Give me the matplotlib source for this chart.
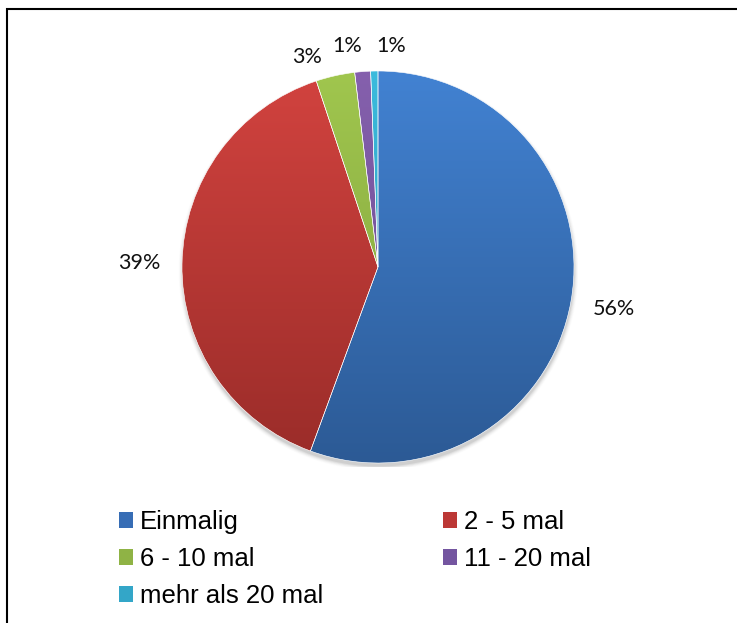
import matplotlib.pyplot as plt
import numpy as np
from matplotlib.patches import Patch, Rectangle, Circle
from matplotlib.colors import LinearSegmentedColormap

categories = ["Einmalig", "2 - 5 mal", "6 - 10 mal", "11 - 20 mal", "mehr als 20 mal"]
shares = [55.6, 39.3, 3.2, 1.3, 0.6]

# gradient (top, bottom) per slice, Excel-like
top_colors = ["#4282d2", "#d2433f", "#a0c64e", "#8560ad", "#3bbbdd"]
bottom_colors = ["#2c5a95", "#9a2c29", "#7f9f3c", "#664a8c", "#2a93b2"]
legend_colors = ["#376db5", "#bc3835", "#8fb345", "#7455a0", "#33a6c8"]

W, H = 737, 623
fig = plt.figure(figsize=(W / 100, H / 100), dpi=100)

cx, cy, r = 378, 267, 196
ax = fig.add_axes([(cx - 200) / W, (H - cy - 200) / H, 400 / W, 400 / H])
ax.axis("off")

# soft shadow under the pie
for i, a in enumerate(np.linspace(0.05, 0.012, 6)):
    ax.add_patch(Circle((0.5, -3.5), r + 0.8 * i, color="black", alpha=a, lw=0, zorder=0))
ax.add_patch(Circle((0, 0), r, color="white", lw=0, zorder=0.5))

wedges, texts, autotexts = ax.pie(
    shares, radius=r, startangle=90, counterclock=False,
    autopct="%1.0f%%", pctdistance=1.22,
    wedgeprops=dict(linewidth=0.4, edgecolor="white"),
    textprops=dict(family="Lato", fontsize=15.5, color="#111111"),
)
ax.set_aspect("auto")

grad = np.linspace(0, 1, 256).reshape(-1, 1)
for w, c0, c1 in zip(wedges, top_colors, bottom_colors):
    w.set_facecolor("none")
    w.set_zorder(2)
    cmap = LinearSegmentedColormap.from_list("g", [c0, c1])
    im = ax.imshow(grad, cmap=cmap, extent=(-r, r, -r, r), origin="upper",
                   aspect="auto", zorder=1, interpolation="bilinear")
    im.set_clip_path(w)

# Excel nudged the small labels apart
autotexts[2].set_position((-71, 210))
autotexts[3].set_position((-31, 221))
autotexts[4].set_position((13, 221))
ax.set_xlim(-200, 200)
ax.set_ylim(-200, 200)

handles = [Patch(facecolor=c, edgecolor="none") for c in legend_colors]
order = [0, 2, 4, 1, 3]
fig.legend([handles[i] for i in order], [categories[i] for i in order],
           ncol=2, loc="upper left", bbox_to_anchor=(119 / W, 1 - 510 / H),
           frameon=False, prop=dict(family="Liberation Sans", size=18.5),
           handlelength=0.55, handleheight=0.55, handletextpad=0.27,
           labelspacing=0.51, columnspacing=4.65, borderpad=0, borderaxespad=0)

# chart frame, cut off at right and bottom
fig.patches.append(Rectangle((6.5 / W, -0.1), 1.2, 1.1 - 9.5 / H, transform=fig.transFigure,
                             fill=False, edgecolor="black", lw=1.5))

fig.savefig("out.png", dpi=100)
